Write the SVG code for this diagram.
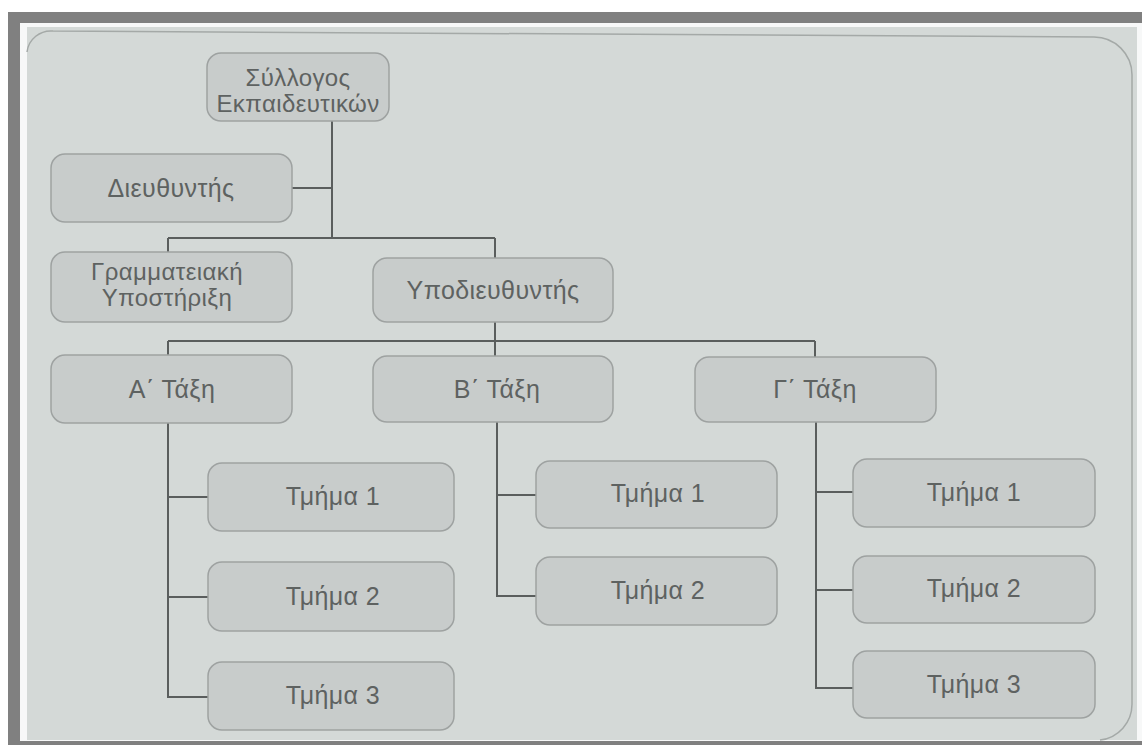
<svg xmlns="http://www.w3.org/2000/svg" width="1142" height="745" viewBox="0 0 1142 745">
  <style>
    .node rect { fill: #c8cccb; stroke: #9ea2a1; stroke-width: 1.5; }
    .node text { font-family: "Liberation Sans", Arial, sans-serif; font-size: 25px; letter-spacing: 0.4px; fill: #5e6261; text-anchor: middle; }
    .node text.two { font-size: 24px; }
    #connectors path { fill: none; stroke: #5a5e5d; stroke-width: 2; }
  </style>

  <!-- frame and page -->
  <rect x="0" y="0" width="1142" height="745" fill="#ffffff"/>
  <rect x="8" y="12" width="1134" height="733" fill="#808080"/>
  <rect x="20" y="23" width="1122" height="718" fill="#f7f8f8"/>
  <rect x="27" y="27" width="1110" height="713" fill="#d4d9d7"/>
  <path d="M27,52 A24 24 0 0 1 53,31 L1094,37 A38 38 0 0 1 1132,75 L1132,704 A36 36 0 0 1 1100,740" fill="none" stroke="#a4a9a7" stroke-width="1.5"/>

  <g id="connectors">
    <path d="M332,121 V238"/>
    <path d="M292,188 H332"/>
    <path d="M168,238 H495"/>
    <path d="M168,238 V252"/>
    <path d="M495,238 V258"/>
    <path d="M495,322 V341"/>
    <path d="M168,341 H815"/>
    <path d="M168,341 V355"/>
    <path d="M495,341 V356"/>
    <path d="M815,341 V357"/>
    <path d="M168,423 V697 H208"/>
    <path d="M168,497 H208"/>
    <path d="M168,597 H208"/>
    <path d="M497,422 V596 H536"/>
    <path d="M497,495 H536"/>
    <path d="M816,422 V688 H853"/>
    <path d="M816,492 H853"/>
    <path d="M816,590 H853"/>
  </g>

  <g id="syllogos" class="node">
    <rect x="207" y="53" width="182" height="68" rx="14"/>
    <text class="two" x="298" y="86">Σύλλογος</text>
    <text class="two" x="298" y="112">Εκπαιδευτικών</text>
  </g>
  <g id="dieuthyntis" class="node">
    <rect x="51" y="154" width="241" height="68" rx="14"/>
    <text x="171" y="197">Διευθυντής</text>
  </g>
  <g id="grammateia" class="node">
    <rect x="51" y="252" width="241" height="70" rx="14"/>
    <text class="two" x="167" y="280">Γραμματειακή</text>
    <text class="two" x="167" y="306">Υποστήριξη</text>
  </g>
  <g id="ypodieuthyntis" class="node">
    <rect x="373" y="258" width="240" height="64" rx="14"/>
    <text x="493" y="299">Υποδιευθυντής</text>
  </g>
  <g id="taxi-a" class="node">
    <rect x="51" y="355" width="241" height="68" rx="14"/>
    <text x="172" y="398">Α΄ Τάξη</text>
  </g>
  <g id="taxi-b" class="node">
    <rect x="373" y="356" width="240" height="66" rx="14"/>
    <text x="497" y="398">Β΄ Τάξη</text>
  </g>
  <g id="taxi-c" class="node">
    <rect x="695" y="357" width="241" height="65" rx="14"/>
    <text x="815" y="398">Γ΄ Τάξη</text>
  </g>

  <g id="a-tmima-1" class="node">
    <rect x="208" y="463" width="246" height="68" rx="14"/>
    <text x="333" y="505">Τμήμα 1</text>
  </g>
  <g id="a-tmima-2" class="node">
    <rect x="208" y="562" width="246" height="69" rx="14"/>
    <text x="333" y="605">Τμήμα 2</text>
  </g>
  <g id="a-tmima-3" class="node">
    <rect x="208" y="662" width="246" height="68" rx="14"/>
    <text x="333" y="704">Τμήμα 3</text>
  </g>

  <g id="b-tmima-1" class="node">
    <rect x="536" y="461" width="241" height="67" rx="14"/>
    <text x="658" y="502">Τμήμα 1</text>
  </g>
  <g id="b-tmima-2" class="node">
    <rect x="536" y="557" width="241" height="68" rx="14"/>
    <text x="658" y="599">Τμήμα 2</text>
  </g>

  <g id="c-tmima-1" class="node">
    <rect x="853" y="459" width="242" height="68" rx="14"/>
    <text x="974" y="501">Τμήμα 1</text>
  </g>
  <g id="c-tmima-2" class="node">
    <rect x="853" y="556" width="242" height="67" rx="14"/>
    <text x="974" y="597">Τμήμα 2</text>
  </g>
  <g id="c-tmima-3" class="node">
    <rect x="853" y="651" width="242" height="67" rx="14"/>
    <text x="974" y="693">Τμήμα 3</text>
  </g>
</svg>
